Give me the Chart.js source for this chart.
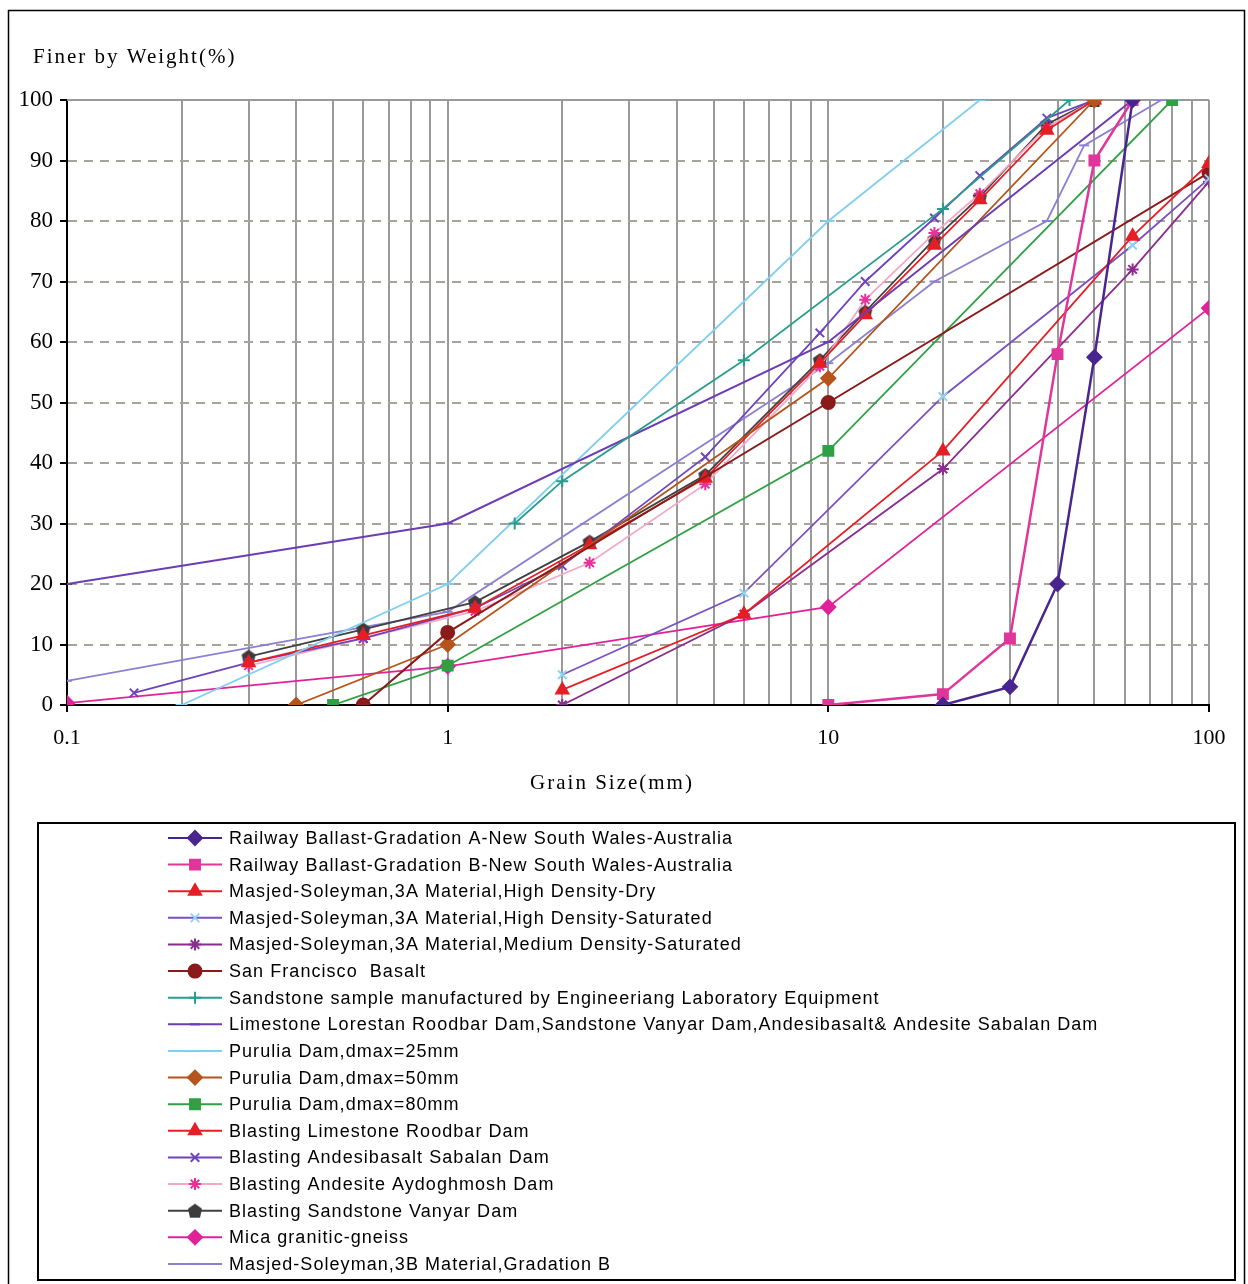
<!DOCTYPE html>
<html>
<head>
<meta charset="utf-8">
<script src="https://cdn.jsdelivr.net/npm/chart.js@4.4.0/dist/chart.umd.min.js"></script>
<style>
html, body { margin: 0; padding: 0; background: #fff; }
canvas { display: block; }
</style>
</head>
<body>
<canvas id="grading" width="1248" height="1284"></canvas>
<script>
// grain size (mm) / percent finer
const railA_x = [20, 30, 40, 50, 63];
const railA_y = [0, 3, 20, 57.5, 100];
const railB_x = [10, 20, 30, 40, 50, 63];
const railB_y = [0, 1.8, 11, 58, 90, 100];
const msHDry_x = [2, 6, 20, 63, 100];
const msHDry_y = [2.5, 15, 42, 77.5, 89.5];
const msHSat_x = [2, 6, 20, 63, 100];
const msHSat_y = [5, 18.5, 51, 76, 87];
const msMSat_x = [2, 6, 20, 63, 100];
const msMSat_y = [0, 15, 39, 72, 86.5];
const sfBasalt_x = [0.6, 1, 10, 100];
const sfBasalt_y = [0, 12, 50, 88];
const sandLab_x = [1.5, 2, 6, 20, 43];
const sandLab_y = [30, 37, 57, 82, 100];
const limeLor_x = [0.1, 1, 10, 63];
const limeLor_y = [20, 30, 60, 100];
const pur25_x = [0.2, 1, 10, 25];
const pur25_y = [0, 20, 80, 100];
const pur50_x = [0.4, 1, 10, 50];
const pur50_y = [0, 10, 54, 100];
const pur80_x = [0.5, 1, 10, 80];
const pur80_y = [0, 6.5, 42, 100];
const blastSieves = [0.3, 0.6, 1.18, 2.36, 4.75, 9.5, 12.5, 19, 25, 37.5, 50];
const roodbar_y = [7, 11.5, 16, 26.5, 37.5, 56.5, 64.5, 76, 83.5, 95, 100];
const andesite_y = [6.5, 11, 15.5, 23.5, 36.5, 56, 67, 78, 84.5, 95.5, 100];
const vanyar_y = [8, 12.5, 17, 27, 38, 57, 65, 77, 84, 96, 100];
const sabalan_x = [0.15, 0.3, 0.6, 1.18, 2, 4.75, 9.5, 12.5, 19, 25, 37.5, 50];
const sabalan_y = [2, 7, 11, 16, 23, 41, 61.5, 70, 80.5, 87.5, 97, 100];
const mica_x = [0.1, 1, 10, 100];
const mica_y = [0.3, 6.4, 16.2, 65.6];
const ms3B_x = [0.1, 1, 10, 19, 37.5, 47, 75];
const ms3B_y = [4, 15.4, 56.5, 70, 80, 92.5, 100];

const xTickLabels = [0.1, 1, 10, 100];
const yTicks = [0, 10, 20, 30, 40, 50, 60, 70, 80, 90, 100];

function pts(xs, ys) {
    return xs.map((x, i) => ({ x: x, y: ys[i] }));
}

// house-shaped marker used for the Vanyar series
function pentagon(color) {
    const c = document.createElement('canvas');
    c.width = 16; c.height = 16;
    const g = c.getContext('2d');
    g.fillStyle = color;
    g.beginPath();
    g.moveTo(8, 1); g.lineTo(15, 6); g.lineTo(13, 15); g.lineTo(3, 15); g.lineTo(1, 6);
    g.closePath();
    g.fill();
    return c;
}

function series(label, data, line, mark, style, radius, width) {
    return {
        label: label,
        data: data,
        borderColor: line,
        backgroundColor: mark,
        pointBackgroundColor: mark,
        pointBorderColor: mark,
        pointStyle: style,
        pointRadius: radius,
        pointBorderWidth: 2,
        borderWidth: width,
        showLine: true,
        tension: 0,
        fill: false
    };
}

const datasets = [
    series('Railway Ballast-Gradation A-New South Wales-Australia', pts(railA_x, railA_y), '#48258f', '#48258f', 'rectRot', 7, 2.5),
    series('Railway Ballast-Gradation B-New South Wales-Australia', pts(railB_x, railB_y), '#e0359a', '#e0359a', 'rect', 7, 2.5),
    series('Masjed-Soleyman,3A Material,High Density-Dry', pts(msHDry_x, msHDry_y), '#e51e25', '#e51e25', 'triangle', 7, 1.8),
    series('Masjed-Soleyman,3A Material,High Density-Saturated', pts(msHSat_x, msHSat_y), '#7a50c0', '#8fd4f0', 'crossRot', 6, 1.8),
    series('Masjed-Soleyman,3A Material,Medium Density-Saturated', pts(msMSat_x, msMSat_y), '#8c2b90', '#8c2b90', 'star', 6, 1.8),
    series('San Francisco  Basalt', pts(sfBasalt_x, sfBasalt_y), '#8b1a1a', '#8b1a1a', 'circle', 6.5, 2),
    series('Sandstone sample manufactured by Engineeriang Laboratory Equipment', pts(sandLab_x, sandLab_y), '#2a9c8c', '#2a9c8c', 'cross', 6, 1.8),
    series('Limestone Lorestan Roodbar Dam,Sandstone Vanyar Dam,Andesibasalt& Andesite Sabalan Dam', pts(limeLor_x, limeLor_y), '#6c3cb4', '#6c3cb4', 'line', 5, 2),
    series('Purulia Dam,dmax=25mm', pts(pur25_x, pur25_y), '#80cfef', '#80cfef', 'line', 6, 1.8),
    series('Purulia Dam,dmax=50mm', pts(pur50_x, pur50_y), '#b5541c', '#b5541c', 'rectRot', 7, 1.8),
    series('Purulia Dam,dmax=80mm', pts(pur80_x, pur80_y), '#2fa043', '#2fa043', 'rect', 7, 1.8),
    series('Blasting Limestone Roodbar Dam', pts(blastSieves, roodbar_y), '#e51e25', '#e51e25', 'triangle', 7, 1.8),
    series('Blasting Andesibasalt Sabalan Dam', pts(sabalan_x, sabalan_y), '#6e44bc', '#6e44bc', 'crossRot', 6, 1.8),
    series('Blasting Andesite Aydoghmosh Dam', pts(blastSieves, andesite_y), '#f5a8c5', '#e8309a', 'star', 6, 1.8),
    series('Blasting Sandstone Vanyar Dam', pts(blastSieves, vanyar_y), '#404040', '#3c3c3c', pentagon('#3c3c3c'), 7, 1.8),
    series('Mica granitic-gneiss', pts(mica_x, mica_y), '#e0229a', '#e0229a', 'rectRot', 7, 1.8),
    series('Masjed-Soleyman,3B Material,Gradation B', pts(ms3B_x, ms3B_y), '#8f7fd0', '#8f7fd0', 'line', 5, 1.8)
];

const SERIF = '"Liberation Serif", "Times New Roman", serif';
const SANS = '"Liberation Sans", Arial, sans-serif';

// frame, titles and boxed legend drawn around the plot
const decorations = {
    id: 'decorations',
    beforeDatasetsDraw(chart) {
        const ctx = chart.ctx;
        const a = chart.chartArea;
        ctx.save();
        ctx.strokeStyle = '#9a9a9a';
        ctx.lineWidth = 2;
        ctx.beginPath();
        ctx.moveTo(a.left, a.top);
        ctx.lineTo(a.right, a.top);
        ctx.stroke();
        ctx.restore();
    },
    afterDraw(chart) {
        const ctx = chart.ctx;
        ctx.save();
        ctx.strokeStyle = '#000';
        ctx.lineWidth = 1.5;
        ctx.strokeRect(8.5, 10.5, 1236, 1280);

        ctx.fillStyle = '#000';
        ctx.font = '21px ' + SERIF;
        ctx.textBaseline = 'middle';
        ctx.textAlign = 'left';
        ctx.letterSpacing = '2px';
        ctx.fillText('Finer by Weight(%)', 33, 57);
        ctx.textAlign = 'center';
        ctx.fillText('Grain Size(mm)', 612, 783);

        ctx.lineWidth = 2;
        ctx.strokeRect(38, 823, 1197, 457);

        ctx.font = '18px ' + SANS;
        ctx.textAlign = 'left';
        ctx.letterSpacing = '0px';
        const first = chart.data.datasets[0].label;
        const w0 = ctx.measureText(first).width;
        const spacing = Math.max(0, (503 - w0) / (first.length - 1));
        ctx.letterSpacing = spacing.toFixed(2) + 'px';
        chart.data.datasets.forEach((ds, i) => {
            const y = 838 + i * 26.62;
            ctx.strokeStyle = ds.borderColor;
            ctx.lineWidth = 2;
            ctx.beginPath();
            ctx.moveTo(168, y);
            ctx.lineTo(222, y);
            ctx.stroke();
            ctx.fillStyle = ds.pointBackgroundColor;
            ctx.strokeStyle = ds.pointBorderColor;
            Chart.helpers.drawPoint(ctx, {
                pointStyle: ds.pointStyle,
                radius: ds.pointRadius,
                rotation: 0,
                borderWidth: 2
            }, 195, y);
            ctx.fillStyle = '#000';
            ctx.fillText(ds.label, 229, y + 1);
        });
        ctx.restore();
    }
};

const config = {
    type: 'line',
    data: { datasets: datasets },
    plugins: [decorations],
    options: {
        responsive: false,
        animation: false,
        devicePixelRatio: 1,
        layout: { padding: { top: 100, right: 39, bottom: 484, left: 0 } },
        plugins: {
            legend: { display: false },
            tooltip: { enabled: false }
        },
        scales: {
            x: {
                type: 'logarithmic',
                min: 0.1,
                max: 100,
                afterBuildTicks(scale) {
                    const vals = [];
                    [0.1, 1, 10].forEach(d => {
                        for (let k = 1; k <= 9; k++) vals.push(d * k);
                    });
                    vals.push(100);
                    scale.ticks = vals.map(v => ({ value: v }));
                },
                afterFit(scale) { scale.height = 95; },
                ticks: {
                    autoSkip: false,
                    maxRotation: 0,
                    padding: 13,
                    color: '#000',
                    font: { family: SERIF, size: 22 },
                    callback: (v) => xTickLabels.includes(v) ? String(v) : ''
                },
                grid: {
                    color: (c) => (c.tick && c.tick.value === 0.1) ? 'rgba(0,0,0,0)' : '#9a9a9a',
                    lineWidth: 2,
                    tickLength: 7,
                    tickWidth: 2,
                    tickColor: (c) => (c.tick && xTickLabels.includes(c.tick.value)) ? '#000' : 'rgba(0,0,0,0)'
                },
                border: { display: true, color: '#000', width: 2 }
            },
            y: {
                type: 'linear',
                min: 0,
                max: 100,
                afterBuildTicks(scale) {
                    scale.ticks = yTicks.map(v => ({ value: v }));
                },
                afterFit(scale) { scale.width = 67; },
                ticks: {
                    padding: 7,
                    color: '#000',
                    font: { family: SERIF, size: 23 }
                },
                grid: {
                    color: (c) => (c.tick && (c.tick.value === 0 || c.tick.value === 100)) ? 'rgba(0,0,0,0)' : '#a8a29c',
                    lineWidth: 2,
                    tickLength: 7,
                    tickWidth: 2,
                    tickColor: '#000'
                },
                border: { display: true, color: '#000', width: 2, dash: [9, 7] }
            }
        }
    }
};

const grading = new Chart(document.getElementById('grading').getContext('2d'), config);
</script>
</body>
</html>
